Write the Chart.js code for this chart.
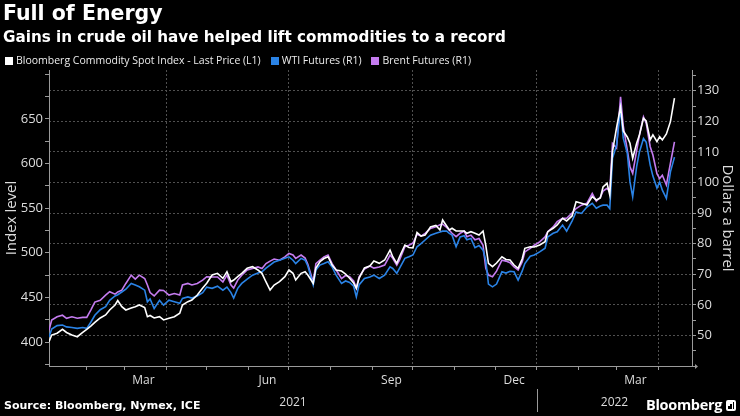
<!DOCTYPE html>
<html><head><meta charset="utf-8">
<script src="https://cdn.jsdelivr.net/npm/chart.js@4.4.1/dist/chart.umd.min.js"></script>
<style>
html,body{margin:0;padding:0;background:#000;}
#wrap{position:relative;width:740px;height:416px;background:#000;overflow:hidden;font-family:"Open Sans",sans-serif;}
#c{position:absolute;left:0;top:0;}
.txt{position:absolute;white-space:nowrap;line-height:1;}
#title{left:3px;top:3px;color:#fff;font-family:"DejaVu Sans",sans-serif;font-weight:700;font-size:20.5px;}
#sub{left:3px;top:29.5px;color:#fff;font-family:"DejaVu Sans",sans-serif;font-weight:700;font-size:15.2px;}
#legend{left:5px;top:55px;color:#ececec;font-size:10.5px;}
#legend span.item{display:inline-block;margin-right:10px;}
#legend i{display:inline-block;width:8px;height:8px;margin-right:3px;vertical-align:-0.5px;}
#source{left:4px;top:400px;color:#fff;font-family:"DejaVu Sans",sans-serif;font-weight:700;font-size:11px;}
#brand{left:646px;top:398px;color:#fff;font-weight:700;font-size:14.5px;letter-spacing:-0.3px;}
#logo{position:absolute;left:726px;top:400px;width:10px;height:11px;background:#fff;border-radius:2px;}
#logo b{position:absolute;bottom:2px;width:1.5px;background:#000;}
</style></head>
<body>
<div id="wrap">
<canvas id="c" width="740" height="416"></canvas>
<div class="txt" id="title">Full of Energy</div>
<div class="txt" id="sub">Gains in crude oil have helped lift commodities to a record</div>
<div class="txt" id="legend"></div>
<div class="txt" id="source">Source: Bloomberg, Nymex, ICE</div>
<div class="txt" id="brand">Bloomberg</div>
<div id="logo"><b style="left:2px;height:3px"></b><b style="left:4.3px;height:5px"></b><b style="left:6.6px;height:7px"></b></div>
</div>
<script>
// ---- data ----
const dates = ['2021-01-04','2021-01-06','2021-01-10','2021-01-14','2021-01-17','2021-01-21','2021-01-25','2021-01-29','2021-02-01','2021-02-04',
'2021-02-07','2021-02-11','2021-02-15','2021-02-18','2021-02-22','2021-02-24','2021-02-27','2021-03-02','2021-03-06','2021-03-09',
'2021-03-12','2021-03-16','2021-03-18','2021-03-20','2021-03-23','2021-03-27','2021-03-30','2021-04-03','2021-04-07','2021-04-11',
'2021-04-13','2021-04-17','2021-04-20','2021-04-24','2021-04-28','2021-05-01','2021-05-05','2021-05-09','2021-05-13','2021-05-16',
'2021-05-19','2021-05-21','2021-05-24','2021-05-27','2021-05-31','2021-06-04','2021-06-08','2021-06-11','2021-06-14','2021-06-17',
'2021-06-20','2021-06-24','2021-06-28','2021-07-01','2021-07-04','2021-07-06','2021-07-10','2021-07-13','2021-07-15','2021-07-19',
'2021-07-21','2021-07-24','2021-07-27','2021-07-30','2021-08-02','2021-08-05','2021-08-09','2021-08-12','2021-08-15','2021-08-18',
'2021-08-20','2021-08-22','2021-08-26','2021-08-30','2021-09-02','2021-09-06','2021-09-10','2021-09-14','2021-09-16','2021-09-19',
'2021-09-21','2021-09-25','2021-09-28','2021-10-01','2021-10-04','2021-10-07','2021-10-10','2021-10-14','2021-10-18','2021-10-21',
'2021-10-23','2021-10-26','2021-10-28','2021-10-30','2021-11-02','2021-11-05','2021-11-08','2021-11-10','2021-11-13','2021-11-16',
'2021-11-19','2021-11-22','2021-11-24','2021-11-26','2021-11-29','2021-12-02','2021-12-06','2021-12-09','2021-12-12','2021-12-15',
'2021-12-18','2021-12-21','2021-12-23','2021-12-27','2021-12-30','2022-01-03','2022-01-07','2022-01-09','2022-01-13','2022-01-16',
'2022-01-20','2022-01-23','2022-01-27','2022-01-30','2022-02-03','2022-02-07','2022-02-11','2022-02-14','2022-02-17','2022-02-19',
'2022-02-22','2022-02-24','2022-02-26','2022-03-01','2022-03-04','2022-03-06','2022-03-09','2022-03-11','2022-03-13','2022-03-16',
'2022-03-18','2022-03-21','2022-03-23','2022-03-26','2022-03-28','2022-03-31','2022-04-02','2022-04-04','2022-04-07','2022-04-10',
'2022-04-13'];

const bcomIndex = [400.3,407.8,409.8,414.2,410.7,407.8,405.9,410.7,414.2,417.9,
421.9,426.9,430.3,435.9,441.5,446.5,439.6,435.9,438.1,439.6,
441.5,438.7,428.4,429.7,426.9,428.4,424.7,426.6,428.4,432.2,
441.5,445.2,447.1,452.7,460.5,465.8,475.1,477.0,471.4,478.8,
467.6,469.5,473.2,477.0,482.6,484.4,480.7,477.0,467.3,458.3,
463.9,467.6,473.2,480.7,477.0,469.5,477.0,478.8,475.1,465.8,
483.0,490.0,493.6,495.6,486.3,480.7,479.6,476.2,471.4,466.1,
460.2,471.4,483.0,485.2,490.8,488.2,491.9,503.1,495.6,488.2,
495.6,508.7,505.9,505.4,522.8,518.8,520.0,528.9,530.6,525.6,
536.8,530.0,525.6,527.5,524.4,524.4,524.4,521.9,523.7,521.9,
520.0,524.4,508.7,488.2,484.4,488.6,495.6,492.5,491.9,486.3,
482.6,493.1,505.0,506.8,506.5,508.7,512.4,523.7,527.5,531.2,
538.7,535.7,541.3,557.3,555.5,553.6,562.9,559.2,561.4,573.8,
577.9,564.8,613.3,639.9,663.5,636.6,629.8,622.8,606.0,623.1,
632.1,650.8,647.8,626.5,632.1,624.6,630.2,626.5,633.2,647.0,673.5];

const wtiFutures = [49.5,52.1,53.2,53.4,52.8,52.6,52.3,52.6,52.3,54.3,
56.6,58.4,59.4,61.5,62.9,63.3,64.2,65.1,67.0,66.5,
65.9,64.8,61.0,61.9,58.8,61.5,59.9,61.5,61.0,60.5,
62.1,62.6,62.2,62.9,64.0,65.8,65.4,66.1,64.8,65.8,
64.0,62.2,65.4,67.0,68.4,69.7,70.4,70.8,72.0,73.0,
74.0,74.6,75.2,75.7,74.6,73.5,75.2,74.6,72.7,66.5,
71.4,73.0,73.5,74.1,72.4,69.7,67.0,67.8,67.3,66.1,
62.6,66.5,68.6,69.1,69.7,68.6,69.7,72.4,71.9,70.3,
71.9,75.2,75.7,76.3,79.0,80.0,81.2,82.8,83.4,83.8,
84.1,84.1,83.4,82.8,79.0,82.2,82.6,81.3,81.7,78.7,
79.4,77.9,74.6,66.8,65.9,66.8,70.8,70.4,71.0,70.8,
68.1,71.0,73.5,75.9,76.3,77.3,78.5,82.2,83.4,83.9,
86.1,84.1,87.4,90.4,89.9,92.0,93.2,91.6,92.3,92.6,
92.6,91.5,107.9,112.2,124.2,114.5,109.6,100.2,95.3,105.4,
110.0,114.4,113.2,105.7,102.1,98.2,100.2,97.5,94.8,103.5,108.3];

const brentFutures = [51.7,55.0,56.1,56.6,55.6,56.1,55.6,55.9,55.9,58.3,
60.9,61.5,63.2,64.3,63.5,64.2,64.8,67.0,69.7,68.4,
69.7,68.6,66.5,64.0,62.9,64.8,64.7,63.2,63.7,63.2,
66.5,67.0,66.5,67.0,68.1,69.2,69.1,69.1,67.5,69.7,
66.5,65.5,68.1,69.7,71.4,71.9,72.4,71.9,73.5,74.3,
75.0,74.6,75.7,76.8,76.3,75.2,76.3,75.3,73.3,67.5,
73.5,74.6,75.7,76.3,73.5,71.4,68.6,69.6,69.2,67.8,
65.4,69.2,71.7,72.7,72.0,72.4,73.0,76.3,75.2,73.0,
74.6,79.0,79.5,80.2,83.1,82.5,83.4,85.0,85.5,86.2,
86.4,85.3,84.4,83.4,82.3,83.4,84.1,82.3,82.8,81.3,
81.7,79.5,72.0,69.7,69.2,71.0,74.6,74.3,73.8,72.4,
71.4,74.0,77.3,78.5,79.5,80.6,82.2,83.9,85.5,87.2,
88.3,88.3,90.0,91.5,92.6,93.2,96.4,93.9,95.2,97.2,
98.1,97.0,112.8,111.3,128.0,118.5,110.6,105.1,103.0,110.6,
115.5,121.5,119.4,111.7,109.0,102.9,101.3,102.4,99.2,106.3,113.3];

const seriesNames = ['Bloomberg Commodity Spot Index - Last Price (L1)','WTI Futures (R1)','Brent Futures (R1)'];
const leftTickLabels = [400,450,500,550,600,650];
const rightTickLabels = [50,60,70,80,90,100,110,120,130];
const monthLabels = ['Mar','Jun','Sep','Dec','Mar'];
const monthLabelDates = ['2021-03-15','2021-06-15','2021-09-15','2021-12-15','2022-03-15'];
const yearLabels = ['2021','2022'];
const axisEndDate = '2022-04-26';

// ---- helpers ----
const DAY = 864e5, BASE = Date.UTC(2021,0,1);
const toDay = s => Math.round((Date.parse(s) - BASE) / DAY);
const xMin = toDay(dates[0]), xMax = toDay(axisEndDate);
const monthStarts = [];
for (let y = 2021; y <= 2022; y++) for (let m = 0; m < 12; m++) {
  const d = Math.round((Date.UTC(y, m, 1) - BASE) / DAY);
  if (d > xMin && d < xMax) monthStarts.push({d, q: m % 3 === 0});
}
const labelDays = monthLabelDates.map(toDay);
const isQuarter = v => monthStarts.some(o => o.d === v && o.q);
const isMonth = v => monthStarts.some(o => o.d === v);

const colors = ['#ffffff', '#2a83e6', '#c57cf0'];
const tickColor = '#dcdcdc', axisColor = '#9a9a9a', gridColor = '#505050';

// legend
document.getElementById('legend').innerHTML = seriesNames.map((n, i) =>
  '<span class="item"><i style="background:' + colors[i] + '"></i>' + n + '</span>').join('');

const pts = arr => dates.map((d, i) => ({x: toDay(d), y: arr[i]}));

Chart.defaults.font.family = '"Open Sans", sans-serif';

const yearPlugin = {
  id: 'years',
  afterDraw(chart) {
    const xs = chart.scales.x, ctx = chart.ctx;
    ctx.save();
    ctx.fillStyle = tickColor;
    ctx.font = '12px "Open Sans"';
    ctx.textAlign = 'center';
    ctx.textBaseline = 'middle';
    yearLabels.forEach(y => {
      const s = Math.max(xs.min, toDay(y + '-01-01'));
      const e = Math.min(xs.max, toDay((+y + 1) + '-01-01'));
      const cx = (xs.getPixelForValue(s) + xs.getPixelForValue(e)) / 2;
      ctx.fillText(y, cx, xs.top + 37);
      if (s > xs.min) {
        const px = Math.round(xs.getPixelForValue(s)) + 0.5;
        ctx.strokeStyle = axisColor; ctx.lineWidth = 1;
        ctx.beginPath(); ctx.moveTo(px, xs.top + 23); ctx.lineTo(px, xs.top + 46); ctx.stroke();
      }
    });
    // small arrow at the end of the time axis
    const ay = Math.round(xs.top) + 0.5, ax = xs.right;
    ctx.strokeStyle = axisColor; ctx.lineWidth = 1;
    ctx.beginPath(); ctx.moveTo(ax, ay); ctx.lineTo(ax + 3, ay); ctx.stroke();
    ctx.fillStyle = axisColor;
    ctx.beginPath(); ctx.moveTo(ax + 3, ay - 2.5); ctx.lineTo(ax + 6, ay); ctx.lineTo(ax + 3, ay + 2.5); ctx.closePath(); ctx.fill();
    ctx.restore();
  }
};

new Chart(document.getElementById('c'), {
  type: 'line',
  data: {
    datasets: [
      {label: seriesNames[0], data: pts(bcomIndex), yAxisID: 'yL', borderColor: colors[0]},
      {label: seriesNames[1], data: pts(wtiFutures), yAxisID: 'yR', borderColor: colors[1]},
      {label: seriesNames[2], data: pts(brentFutures), yAxisID: 'yR', borderColor: colors[2]}
    ]
  },
  options: {
    responsive: false,
    animation: false,
    parsing: false,
    elements: {line: {borderWidth: 1.6, tension: 0}, point: {radius: 0}},
    layout: {padding: {top: 70, left: 0, right: 0, bottom: 0}},
    plugins: {legend: {display: false}, tooltip: {enabled: false}},
    scales: {
      x: {
        type: 'linear', min: xMin, max: xMax,
        afterFit(s) { s.height = 50; },
        afterBuildTicks(s) {
          s.ticks = monthStarts.map(o => ({value: o.d})).concat(labelDays.map(v => ({value: v})))
            .sort((a, b) => a.value - b.value);
        },
        ticks: {
          autoSkip: false, maxRotation: 0, padding: 3, color: tickColor, font: {size: 12},
          callback: v => { const i = labelDays.indexOf(v); return i >= 0 ? monthLabels[i] : ''; }
        },
        grid: {
          color: c => (c.tick && isQuarter(c.tick.value)) ? gridColor : 'rgba(0,0,0,0)',
          tickColor: c => (c.tick && isMonth(c.tick.value)) ? axisColor : 'rgba(0,0,0,0)',
          tickLength: 4, lineWidth: 1, tickBorderDash: []
        },
        border: {color: axisColor, width: 1, dash: [2, 2]}
      },
      yL: {
        type: 'linear', position: 'left', min: 373.1, max: 704.9,
        afterFit(s) { s.width = 49; },
        afterBuildTicks(s) { const t = []; for (let v = 375; v <= 700; v += 25) t.push({value: v}); s.ticks = t; },
        ticks: {
          autoSkip: false, padding: 2, color: tickColor, font: {size: 13},
          callback: v => leftTickLabels.includes(v) ? String(v) : ''
        },
        grid: {drawOnChartArea: false, tickColor: axisColor, tickLength: 4},
        border: {color: axisColor, width: 1},
        title: {display: true, text: 'Index level', color: tickColor, font: {size: 15}, padding: {top: 3, bottom: 0}}
      },
      yR: {
        type: 'linear', position: 'right', min: 40, max: 136.8,
        afterFit(s) { s.width = 48; },
        afterBuildTicks(s) { const t = []; for (let v = 40; v <= 135; v += 5) t.push({value: v}); s.ticks = t; },
        ticks: {
          autoSkip: false, padding: 1, color: tickColor, font: {size: 13},
          callback: v => rightTickLabels.includes(v) ? String(v) : ''
        },
        grid: {
          drawOnChartArea: true,
          color: c => (c.tick && rightTickLabels.includes(c.tick.value)) ? gridColor : 'rgba(0,0,0,0)',
          tickColor: axisColor, tickLength: 4, tickBorderDash: []
        },
        border: {color: axisColor, width: 1, dash: [2, 2]},
        title: {display: true, text: 'Dollars a barrel', color: tickColor, font: {size: 15}, padding: {top: 4, bottom: 0}}
      }
    }
  },
  plugins: [yearPlugin]
});
</script>
</body></html>
